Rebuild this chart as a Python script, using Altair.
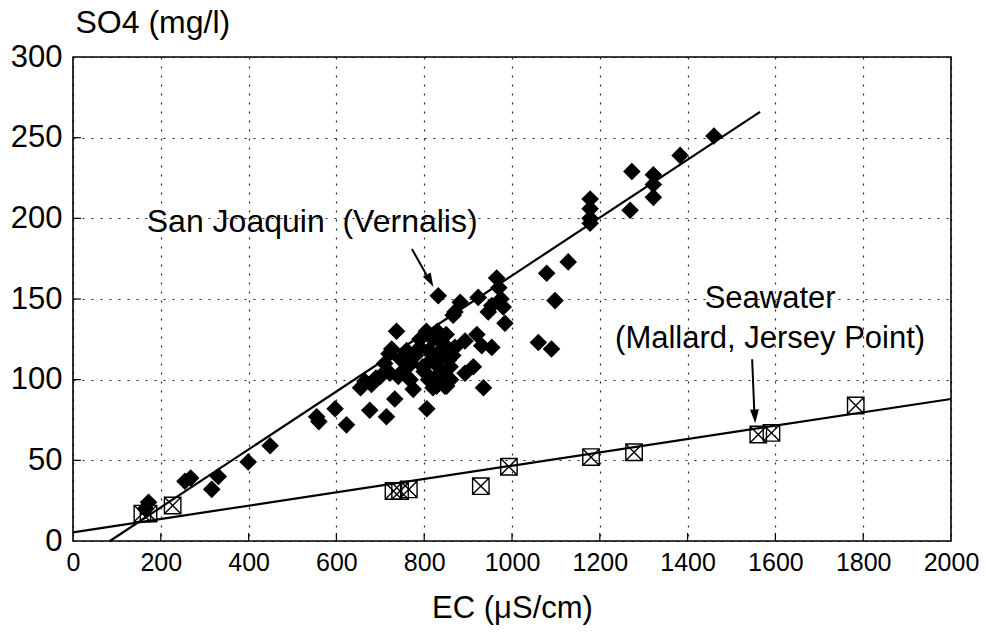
import altair as alt
import pandas as pd

# San Joaquin (Vernalis) observations: EC (uS/cm), SO4 (mg/l)
sj_ec = [165, 172, 255, 268, 316, 331, 399, 449, 555, 560, 597, 623, 655, 665, 676, 680, 690,
         700, 714, 722, 726, 733, 737, 741, 745, 710, 720, 750, 760, 768, 770, 775, 780, 790,
         790, 797, 800, 805, 806, 810, 810, 815, 820, 820, 825, 828, 828, 828, 830, 832, 835,
         835, 840, 840, 845, 847, 850, 851, 855, 859, 860, 865, 866, 870, 870, 882, 893, 893,
         912, 920, 923, 931, 935, 946, 954, 954, 965, 970, 975, 980, 984, 1060, 1079, 1090,
         1098, 1128, 1178, 1178, 1178, 1178, 1269, 1273, 1322, 1322, 1322, 1383, 1460]
sj_so4 = [20, 24, 37, 39, 32, 40, 49, 59, 77, 74, 82, 72, 95, 99, 81, 97, 101,
          102, 77, 104, 119, 88, 130, 102, 113, 110, 116, 105, 118, 100, 110, 94, 115, 120,
          125, 108, 105, 130, 82, 118, 100, 112, 125, 95, 110, 127, 96, 102, 130, 152, 115,
          98, 119, 105, 122, 96, 128, 96, 112, 108, 100, 115, 140, 120, 142, 148, 124, 104,
          108, 128, 151, 121, 95, 142, 146, 120, 163, 157, 150, 145, 135, 123, 166, 119,
          149, 173, 212, 206, 200, 197, 205, 229, 227, 221, 213, 239, 251]

# Seawater (Mallard, Jersey Point)
sw_ec = [158, 172, 227, 730, 745, 765, 929, 993, 1180, 1278, 1561, 1591, 1783]
sw_so4 = [17, 17, 22, 31, 31, 32, 34, 46, 52, 55, 66, 67, 84]

# Fitted lines
sj_line_ec = [84, 1565]
sj_line_so4 = [0, 266]
sw_line_ec = [0, 2000]
sw_line_so4 = [5.4, 88]

x_ticks = list(range(0, 2001, 200))
y_ticks = list(range(0, 301, 50))

FONT = "Liberation Sans"
W, H = 878, 484

xs = alt.Scale(domain=[0, 2000], nice=False, zero=False)
ys = alt.Scale(domain=[0, 300], nice=False, zero=False)

sj = pd.DataFrame({"ec": sj_ec, "so4": sj_so4})
sw = pd.DataFrame({"ec": sw_ec, "so4": sw_so4})
sjl = pd.DataFrame({"ec": sj_line_ec, "so4": sj_line_so4})
swl = pd.DataFrame({"ec": sw_line_ec, "so4": sw_line_so4})

x_axis = alt.Axis(values=x_ticks, format="d", labelOverlap=False, labelFlush=False,
                  grid=True, gridDash=[2, 7], gridColor="#000000",
                  gridOpacity=0.85, gridWidth=1.2, domain=False, ticks=False,
                  labelFontSize=25, labelFont=FONT, labelColor="#000000", labelPadding=9,
                  title="EC (\u03bcS/cm)", titleFontSize=31, titleFont=FONT,
                  titleFontWeight="normal", titleColor="#000000", titlePadding=18)
y_axis = alt.Axis(values=y_ticks, format="d", labelFlush=False, grid=True,
                  gridDash=[2, 7], gridColor="#000000",
                  gridOpacity=0.85, gridWidth=1.2, domain=False, ticks=False,
                  labelFontSize=31, labelFont=FONT, labelColor="#000000", labelPadding=11,
                  title="SO4 (mg/l)", titleFontSize=32, titleFont=FONT,
                  titleFontWeight="normal", titleColor="#000000", titleAngle=0,
                  titleAlign="left", titleBaseline="middle", titleX=2, titleY=-35)

base_sj = alt.Chart(sj).mark_point(shape="diamond", filled=True, color="#000000",
                                   size=310, opacity=1).encode(
    x=alt.X("ec:Q", scale=xs, axis=x_axis),
    y=alt.Y("so4:Q", scale=ys, axis=y_axis),
)

box_x = "M-1,-1L1,-1L1,1L-1,1Z M-1,-1L1,1 M1,-1L-1,1"
sw_pts = alt.Chart(sw).mark_point(shape=box_x, filled=False, color="#000000",
                                  size=270, strokeWidth=1.4, opacity=1).encode(
    x=alt.X("ec:Q", scale=xs), y=alt.Y("so4:Q", scale=ys))

sj_line = alt.Chart(sjl).mark_line(color="#000000", strokeWidth=2.2).encode(
    x=alt.X("ec:Q", scale=xs), y=alt.Y("so4:Q", scale=ys))
sw_line = alt.Chart(swl).mark_line(color="#000000", strokeWidth=2.2).encode(
    x=alt.X("ec:Q", scale=xs), y=alt.Y("so4:Q", scale=ys))

# inward ticks
xt = pd.DataFrame({"v": x_ticks[1:-1], "a": 0, "b": 5})
yt = pd.DataFrame({"v": y_ticks[1:-1], "a": 0, "b": 18})
xtick = alt.Chart(xt).mark_rule(color="#000000", strokeWidth=1.2).encode(
    x=alt.X("v:Q", scale=xs), y=alt.Y("a:Q", scale=ys), y2="b:Q")
ytick = alt.Chart(yt).mark_rule(color="#000000", strokeWidth=1.2).encode(
    y=alt.Y("v:Q", scale=ys), x=alt.X("a:Q", scale=xs), x2="b:Q")

# annotations
ann = pd.DataFrame({
    "ec": [168, 1588, 1588],
    "so4": [198, 150, 125],
    "t": ["San Joaquin\u00a0\u00a0(Vernalis)", "Seawater", "(Mallard, Jersey Point)"],
    "al": ["left", "center", "center"],
})
ann_left = alt.Chart(ann[ann.al == "left"]).mark_text(
    align="left", baseline="middle", fontSize=32, font=FONT, color="#000000").encode(
    x=alt.X("ec:Q", scale=xs), y=alt.Y("so4:Q", scale=ys), text="t:N")
ann_center = alt.Chart(ann[ann.al == "center"]).mark_text(
    align="center", baseline="middle", fontSize=31, font=FONT, color="#000000").encode(
    x=alt.X("ec:Q", scale=xs), y=alt.Y("so4:Q", scale=ys), text="t:N")

arrows = pd.DataFrame({"x1": [772, 1547], "y1": [181, 112.7],
                       "x2": [805, 1552], "y2": [165, 80]})
arrow_lines = alt.Chart(arrows).mark_rule(color="#000000", strokeWidth=2).encode(
    x=alt.X("x1:Q", scale=xs), y=alt.Y("y1:Q", scale=ys), x2="x2:Q", y2="y2:Q")
heads = pd.DataFrame({"x": [812, 1553], "y": [162, 78], "ang": [151, 177]})
head_marks = alt.Chart(heads).mark_point(
    shape="M0,-1L-0.55,0.7L0.55,0.7Z", filled=True, color="#000000", size=260,
    opacity=1).encode(
    x=alt.X("x:Q", scale=xs), y=alt.Y("y:Q", scale=ys),
    angle=alt.Angle("ang:Q", scale=None))

chart = alt.layer(base_sj, sw_line, sj_line, sw_pts, xtick, ytick,
                  ann_left, ann_center, arrow_lines, head_marks).properties(
    width=W, height=H,
    padding={"left": 73, "top": 57, "right": 37, "bottom": 95},
    autosize=alt.AutoSizeParams(type="none"),
    background="white",
).configure_view(stroke="#000000", strokeWidth=1.6)

chart.save("out.html", embed_options={"renderer": "svg", "actions": False})
